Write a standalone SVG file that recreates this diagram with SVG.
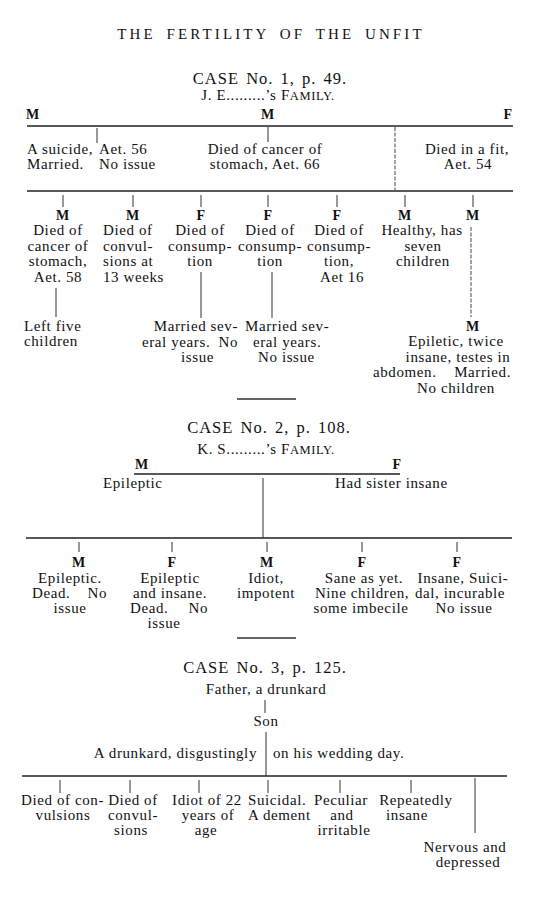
<svg xmlns="http://www.w3.org/2000/svg" width="539" height="900" viewBox="0 0 539 900">
<style>
text{font-family:"Liberation Serif","Times New Roman",serif;font-size:15px;fill:#111;letter-spacing:0.6px}
.c{text-anchor:middle}
.e{text-anchor:end}
.t{font-size:15px;letter-spacing:3.1px;word-spacing:4px}
.h{font-size:16.5px;letter-spacing:1px;word-spacing:2px}
.sc{font-size:12.5px}
.l{font-weight:bold;font-size:14px}
.rule{stroke:#222;stroke-width:1.6}
.tick{stroke:#333;stroke-width:1}
.dot{stroke:#444;stroke-width:1;stroke-dasharray:4 1.5}
.sep{stroke:#333;stroke-width:1.3}
</style>
<rect width="539" height="900" fill="#fff"/>
<text id="title" class="t c" x="271" y="39">THE FERTILITY OF THE UNFIT</text>

<g id="connectors" fill="none">
  <!-- case 1 -->
  <line class="rule" x1="27" y1="126" x2="513" y2="126"/>
  <line class="tick" x1="97" y1="128" x2="97" y2="143"/>
  <line class="tick" x1="268" y1="127" x2="268" y2="142"/>
  <line class="dot" x1="395" y1="127" x2="395" y2="190"/>
  <line class="rule" x1="27" y1="191" x2="513" y2="191"/>
  <line class="tick" x1="63" y1="195" x2="63" y2="207"/>
  <line class="tick" x1="133" y1="195" x2="133" y2="207"/>
  <line class="tick" x1="201" y1="195" x2="201" y2="207"/>
  <line class="tick" x1="268" y1="195" x2="268" y2="207"/>
  <line class="tick" x1="337" y1="195" x2="337" y2="207"/>
  <line class="tick" x1="405" y1="195" x2="405" y2="207"/>
  <line class="tick" x1="473" y1="195" x2="473" y2="207"/>
  <line class="tick" x1="56" y1="288" x2="56" y2="317"/>
  <line class="tick" x1="201" y1="272" x2="201" y2="318"/>
  <line class="tick" x1="272" y1="272" x2="272" y2="318"/>
  <line class="dot" x1="471" y1="227" x2="471" y2="317"/>
  <line class="sep" x1="237" y1="399" x2="296" y2="399"/>
  <!-- case 2 -->
  <line class="rule" x1="134" y1="474" x2="400" y2="474"/>
  <line class="tick" x1="263" y1="478" x2="263" y2="538" stroke-width="1.3"/>
  <line class="rule" x1="26" y1="538" x2="512" y2="538"/>
  <line class="tick" x1="79" y1="542" x2="79" y2="552"/>
  <line class="tick" x1="172" y1="542" x2="172" y2="552"/>
  <line class="tick" x1="267" y1="542" x2="267" y2="552"/>
  <line class="tick" x1="362" y1="542" x2="362" y2="552"/>
  <line class="tick" x1="457" y1="542" x2="457" y2="552"/>
  <line class="sep" x1="237" y1="638" x2="296" y2="638"/>
  <!-- case 3 -->
  <line class="tick" x1="265" y1="700" x2="265" y2="713"/>
  <line class="tick" x1="266" y1="732" x2="266" y2="776" stroke-width="1.3"/>
  <line class="rule" x1="22" y1="776" x2="507" y2="776"/>
  <line class="tick" x1="60" y1="780" x2="60" y2="793"/>
  <line class="tick" x1="130" y1="780" x2="130" y2="793"/>
  <line class="tick" x1="199" y1="780" x2="199" y2="793"/>
  <line class="tick" x1="268" y1="780" x2="268" y2="793"/>
  <line class="tick" x1="340" y1="780" x2="340" y2="793"/>
  <line class="tick" x1="411" y1="780" x2="411" y2="793"/>
  <line class="tick" x1="475" y1="778" x2="475" y2="833"/>
</g>

<!-- CASE 1 -->
<g id="case1-header">
  <text class="h c" x="270" y="84">CASE No. 1, p. 49.</text>
  <text class="c" x="268" y="100">J. E.........’s <tspan>F</tspan><tspan class="sc">AMILY.</tspan></text>
</g>
<g id="c1-parent-1">
  <text class="c l" x="33" y="119">M</text>
  <text x="27" y="154">A suicide,</text><text x="99" y="154">Aet. 56</text>
  <text x="27" y="169">Married.</text><text x="99" y="169">No issue</text>
</g>
<g id="c1-parent-2">
  <text class="c l" x="268" y="119">M</text>
  <text class="c" x="265" y="154">Died of cancer of</text>
  <text class="c" x="265" y="169">stomach, Aet. 66</text>
</g>
<g id="c1-parent-3">
  <text class="c l" x="508" y="119">F</text>
  <text class="c" x="467" y="154">Died in a fit,</text>
  <text class="c" x="468" y="169">Aet. 54</text>
</g>
<g id="c1-child-1">
  <text class="c l" x="63" y="220">M</text>
  <text class="c" x="58" y="235">Died of</text>
  <text class="c" x="58" y="250.5">cancer of</text>
  <text class="c" x="58" y="266">stomach,</text>
  <text class="c" x="58" y="281.5">Aet. 58</text>
</g>
<g id="c1-child-1-issue">
  <text x="24" y="331">Left five</text>
  <text x="24" y="346">children</text>
</g>
<g id="c1-child-2">
  <text class="c l" x="133" y="220">M</text>
  <text x="103" y="235">Died of</text>
  <text x="103" y="250.5">convul-</text>
  <text x="103" y="266">sions at</text>
  <text x="103" y="281.5">13 weeks</text>
</g>
<g id="c1-child-3">
  <text class="c l" x="201" y="220">F</text>
  <text class="c" x="200" y="235">Died of</text>
  <text class="c" x="200" y="250.5">consump-</text>
  <text class="c" x="200" y="266">tion</text>
</g>
<g id="c1-child-3-note">
  <text class="e" x="238" y="331">Married sev-</text>
  <text x="142" y="347">eral years.</text><text class="e" x="238" y="347">No</text>
  <text x="181" y="362">issue</text>
</g>
<g id="c1-child-4">
  <text class="c l" x="268" y="220">F</text>
  <text class="c" x="270" y="235">Died of</text>
  <text class="c" x="270" y="250.5">consump-</text>
  <text class="c" x="270" y="266">tion</text>
</g>
<g id="c1-child-4-note">
  <text x="245" y="331">Married sev-</text>
  <text x="253" y="347">eral years.</text>
  <text x="258" y="362">No issue</text>
</g>
<g id="c1-child-5">
  <text class="c l" x="337" y="220">F</text>
  <text class="c" x="339" y="235">Died of</text>
  <text class="c" x="339" y="250.5">consump-</text>
  <text class="c" x="339" y="266">tion,</text>
  <text class="c" x="342" y="281.5">Aet 16</text>
</g>
<g id="c1-child-6">
  <text class="c l" x="405" y="220">M</text>
  <text class="c" x="422" y="235">Healthy, has</text>
  <text class="c" x="423" y="250.5">seven</text>
  <text class="c" x="423" y="266">children</text>
</g>
<g id="c1-child-7">
  <text class="c l" x="473" y="220">M</text>
</g>
<g id="c1-child-7-note">
  <text class="c l" x="473" y="331">M</text>
  <text class="c" x="456" y="346">Epiletic, twice</text>
  <text class="c" x="458" y="362">insane, testes in</text>
  <text x="373" y="377">abdomen.</text><text class="e" x="511" y="377">Married.</text>
  <text class="c" x="456" y="393">No children</text>
</g>

<!-- CASE 2 -->
<g id="case2-header">
  <text class="h c" x="269" y="433">CASE No. 2, p. 108.</text>
  <text class="c" x="266" y="454">K. S.........’s <tspan>F</tspan><tspan class="sc">AMILY.</tspan></text>
</g>
<g id="c2-parent-1">
  <text class="c l" x="142" y="469">M</text>
  <text x="103" y="488">Epileptic</text>
</g>
<g id="c2-parent-2">
  <text class="c l" x="397" y="469">F</text>
  <text x="335" y="488">Had sister insane</text>
</g>
<g id="c2-child-1">
  <text class="c l" x="79" y="567">M</text>
  <text class="c" x="70" y="583">Epileptic.</text>
  <text x="32" y="598">Dead.</text><text class="e" x="107" y="598">No</text>
  <text class="c" x="70" y="613">issue</text>
</g>
<g id="c2-child-2">
  <text class="c l" x="172" y="567">F</text>
  <text class="c" x="170" y="583">Epileptic</text>
  <text class="c" x="170" y="598">and insane.</text>
  <text x="130" y="613">Dead.</text><text class="e" x="208" y="613">No</text>
  <text class="c" x="164" y="628">issue</text>
</g>
<g id="c2-child-3">
  <text class="c l" x="267" y="567">M</text>
  <text class="c" x="266" y="583">Idiot,</text>
  <text class="c" x="266" y="598">impotent</text>
</g>
<g id="c2-child-4">
  <text class="c l" x="362" y="567">F</text>
  <text class="c" x="364" y="583">Sane as yet.</text>
  <text class="c" x="362" y="598">Nine children,</text>
  <text class="c" x="361" y="613">some imbecile</text>
</g>
<g id="c2-child-5">
  <text class="c l" x="457" y="567">F</text>
  <text class="c" x="463" y="583">Insane, Suici-</text>
  <text class="c" x="460" y="598">dal, incurable</text>
  <text class="c" x="464" y="613">No issue</text>
</g>

<!-- CASE 3 -->
<g id="case3-header">
  <text class="h c" x="265" y="673">CASE No. 3, p. 125.</text>
</g>
<g id="c3-father">
  <text class="c" x="266" y="694">Father, a drunkard</text>
</g>
<g id="c3-son">
  <text class="c" x="266" y="726">Son</text>
  <text class="e" x="257" y="758">A drunkard, disgustingly</text>
  <text x="273" y="758">on his wedding day.</text>
</g>
<g id="c3-child-1">
  <text x="21" y="805">Died of con-</text>
  <text class="c" x="63" y="820">vulsions</text>
</g>
<g id="c3-child-2">
  <text class="c" x="133" y="805">Died of</text>
  <text class="c" x="133" y="820">convul-</text>
  <text class="c" x="131" y="835">sions</text>
</g>
<g id="c3-child-3">
  <text class="c" x="207" y="805">Idiot of 22</text>
  <text class="c" x="208" y="820">years of</text>
  <text class="c" x="206" y="835">age</text>
</g>
<g id="c3-child-4">
  <text x="248" y="805">Suicidal.</text>
  <text x="248" y="820">A dement</text>
</g>
<g id="c3-child-5">
  <text class="c" x="341" y="805">Peculiar</text>
  <text class="c" x="342" y="820">and</text>
  <text class="c" x="344" y="835">irritable</text>
</g>
<g id="c3-child-6">
  <text class="c" x="416" y="805">Repeatedly</text>
  <text class="c" x="407" y="820">insane</text>
</g>
<g id="c3-child-7">
  <text class="c" x="465" y="852">Nervous and</text>
  <text class="c" x="468" y="867">depressed</text>
</g>
</svg>
